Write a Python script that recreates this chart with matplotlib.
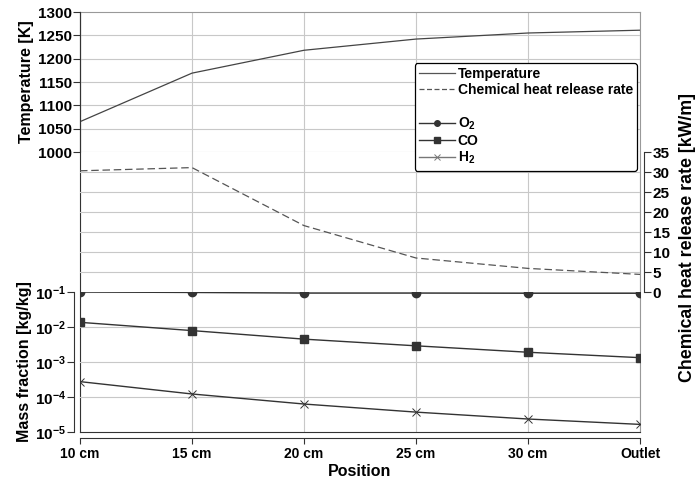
import numpy as np
import matplotlib.pyplot as plt
from matplotlib.lines import Line2D

plt.rcParams['font.family'] = ['Liberation Sans', 'DejaVu Sans']
plt.rcParams['font.weight'] = 'bold'
plt.rcParams['mathtext.fontset'] = 'custom'
plt.rcParams['mathtext.rm'] = 'Liberation Sans:bold'
plt.rcParams['mathtext.bf'] = 'Liberation Sans:bold'
plt.rcParams['mathtext.it'] = 'Liberation Sans:bold'

# datos
posiciones = ['10 cm', '15 cm', '20 cm', '25 cm', '30 cm', 'Outlet']
temperatura = [1065, 1169, 1218, 1242, 1255, 1261]
calor = [30.3, 31.1, 16.6, 8.5, 5.9, 4.4]
o2 = [0.100, 0.097, 0.093, 0.093, 0.092, 0.092]
co = [0.0136, 0.0079, 0.0045, 0.0029, 0.0019, 0.00133]
h2 = [2.75e-4, 1.22e-4, 6.3e-5, 3.7e-5, 2.35e-5, 1.65e-5]

x = np.arange(len(posiciones))
W, H = 700, 486
izq, der, arriba, abajo = 80, 640, 12, 432
alto = (abajo - arriba) / 3

fig = plt.figure(figsize=(7, 4.86), dpi=100)
gris = '#c8c8c8'
linea = '#333333'
fs = 11


def caja(y0, y1):
    return [izq / W, 1 - y1 / H, (der - izq) / W, (y1 - y0) / H]


# fondo con rejilla vertical y eje x
bg = fig.add_axes(caja(arriba, abajo))
bg.set_xlim(x[0], x[-1])
bg.set_ylim(0, 1)
bg.set_yticks([])
bg.set_xticks(x)
bg.set_xticklabels(posiciones, fontsize=fs, fontweight='bold')
bg.grid(axis='x', color=gris, lw=0.8)
for s in ['top', 'right']:
    bg.spines[s].set_color('#999999')
bg.spines['left'].set_color(linea)
bg.spines['bottom'].set_position(('outward', 4))
bg.spines['bottom'].set_color(linea)
bg.tick_params(axis='x', length=4, color=linea, pad=3)
bg.set_xlabel('Position', fontsize=11.5, fontweight='bold', labelpad=2)


def transparente(ax):
    ax.patch.set_alpha(0)
    ax.set_xlim(x[0], x[-1])
    ax.set_xticks([])
    for s in ['top', 'bottom', 'left', 'right']:
        ax.spines[s].set_visible(False)


# temperatura
axT = fig.add_axes(caja(arriba, arriba + alto))
transparente(axT)
axT.set_ylim(1000, 1300)
axT.set_yticks(np.arange(1000, 1301, 50))
axT.spines['left'].set_visible(True)
axT.spines['left'].set_color(linea)
axT.tick_params(axis='y', length=5, color=linea, labelsize=fs, pad=1)
for v in range(1000, 1300, 50):
    axT.axhline(v, color=gris, lw=0.8, zorder=0)
axT.plot(x, temperatura, color='#444444', lw=0.9)
axT.set_ylabel('Temperature [K]', fontsize=11.5, fontweight='bold', labelpad=3)

# calor liberado
axQ = fig.add_axes(caja(arriba + alto, arriba + 2 * alto))
transparente(axQ)
axQ.set_ylim(0, 35)
axQ.set_yticks(np.arange(0, 36, 5))
axQ.yaxis.tick_right()
axQ.spines['right'].set_visible(True)
axQ.spines['right'].set_position(('outward', 3))
axQ.spines['right'].set_color(linea)
axQ.tick_params(axis='y', length=5, color=linea, labelsize=fs, pad=1)
for v in range(5, 35, 5):
    axQ.axhline(v, color=gris, lw=0.8, zorder=0)
axQ.plot(x, calor, color='#555555', lw=0.9, ls=(0, (6, 3)))

# fracciones masicas
axM = fig.add_axes(caja(arriba + 2 * alto, abajo))
transparente(axM)
axM.set_yscale('log')
axM.set_ylim(1e-5, 1e-1)
dec = [1e-5, 1e-4, 1e-3, 1e-2, 1e-1]
axM.set_yticks(dec)
axM.set_yticklabels([r'$10^{%d}$' % np.log10(d) for d in dec])
axM.minorticks_off()
axM.spines['left'].set_visible(True)
axM.spines['left'].set_position(('outward', 4))
axM.spines['left'].set_color(linea)
axM.spines['bottom'].set_visible(True)
axM.spines['bottom'].set_color(linea)
axM.tick_params(axis='y', length=5, color=linea, labelsize=fs, pad=1)
for v in [1e-4, 1e-3, 1e-2, 1e-1]:
    axM.axhline(v, color=gris, lw=0.8, zorder=0)
axM.plot(x, o2, color=linea, lw=1, marker='o', ms=6)
axM.plot(x, co, color=linea, lw=1, marker='s', ms=6)
axM.plot(x, h2, color=linea, lw=1, marker='x', ms=6, mew=0.7)
axM.set_ylabel('Mass fraction [kg/kg]', fontsize=11.5, fontweight='bold', labelpad=2)

# etiqueta derecha
fig.text(688 / W, 1 - 237 / H, 'Chemical heat release rate [kW/m]', rotation=90,
         ha='center', va='center', fontsize=12.8, fontweight='bold')

# leyenda
handles = [
    Line2D([], [], color='#555555', lw=0.9),
    Line2D([], [], color='#555555', lw=0.9, ls=(0, (4, 2))),
    Line2D([], [], color='none'),
    Line2D([], [], color=linea, lw=1, marker='o', ms=4),
    Line2D([], [], color=linea, lw=1, marker='s', ms=4),
    Line2D([], [], color='#777777', lw=1, marker='x', ms=4, mew=0.7),
]
labels = ['Temperature', 'Chemical heat release rate', ' ',
          r'$\mathregular{O_2}$', 'CO', r'$\mathregular{H_2}$']
leg = fig.legend(handles, labels, loc='upper right',
                 bbox_to_anchor=(637 / W, 1 - 63 / H),
                 prop={'weight': 'bold', 'size': 10},
                 frameon=True, fancybox=True, framealpha=1, edgecolor='black',
                 handlelength=2.6, handletextpad=0.2, labelspacing=0.15,
                 borderpad=0.3, borderaxespad=0)
leg.get_frame().set_linewidth(0.9)

fig.savefig('out.png', dpi=100)
